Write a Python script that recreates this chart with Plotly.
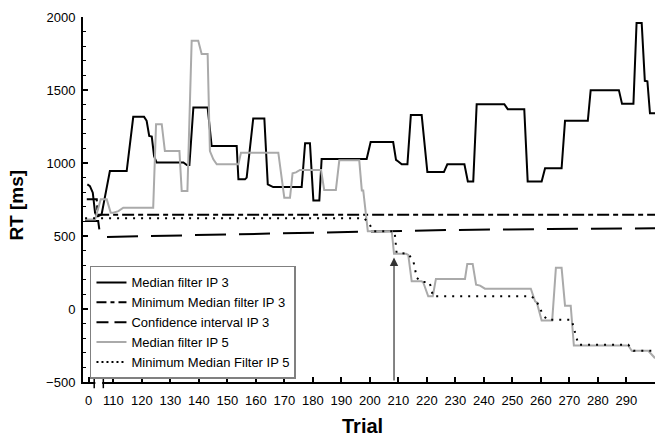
import plotly.graph_objects as go

# ---- data (x = position on the broken Trial axis, y = RT in ms) ----
med3_x = [100.9,101.8,102.8,103.6,104.2,104.7,105.9,107.1,108.8,114.7,117.0,120.8,121.7,122.6,123.5,124.3,125.2,
          134.6,135.8,136.7,138.1,143.1,144.5,153.3,153.9,156.2,156.8,159.1,163.0,164.2,166.1,176.1,177.3,179.0,
          180.2,182.3,183.1,198.9,200.3,208.2,209.2,210.0,211.2,213.2,214.4,218.2,220.2,226.0,227.2,233.2,234.4,
          236.3,237.5,247.2,248.4,254.2,255.4,260.3,261.5,267.3,268.5,276.5,277.5,287.4,288.5,292.5,293.6,295.4,
          296.5,297.4,298.3,300.1]
med3_y = [853,842,797,659,636,636,648,773,945,945,1316,1316,1289,1185,1181,1048,1003,
          1003,986,986,1380,1380,1117,1117,888,888,900,1305,1305,854,835,835,1135,1135,
          744,744,1028,1028,1144,1144,1021,1010,991,991,1328,1328,938,938,991,991,874,
          874,1403,1403,1369,1369,874,874,964,964,1289,1289,1499,1499,1405,1405,1959,1959,
          1563,1560,1341,1341]

minmed3_x = [100.7, 104.2, 104.5, 300.1]
minmed3_y = [751, 751, 645, 645]

ci3_x = [100.1, 104.7, 105.1, None, 107.8, 122.9, 158.0, 193.1, 228.2, 263.2, 300.1]
ci3_y = [602, 602, 545, None, 494, 500, 515, 530, 541, 548, 553]

med5_x = [100.1,103.6,105.6,107.7,109.1,110.0,111.8,113.5,124.0,125.0,127.0,128.1,133.2,134.0,136.0,137.5,
          139.8,141.0,143.1,143.9,145.1,146.3,153.9,154.8,167.9,170.0,172.0,172.9,174.1,175.5,182.9,184.0,
          188.1,189.3,196.3,197.2,197.7,199.3,207.7,208.5,212.7,213.5,214.7,218.2,218.8,220.5,222.1,223.2,
          233.4,234.2,236.1,237.3,238.7,240.4,256.5,258.0,258.6,260.3,264.0,265.3,267.3,268.5,270.5,271.6,
          290.7,291.9,297.7,300.1]
med5_y = [613,613,751,751,659,659,670,694,694,1266,1266,1082,1082,808,808,1838,
          1838,1747,1747,1082,1025,991,991,1071,1071,762,762,929,936,952,952,815,
          815,1018,1018,812,812,533,533,378,378,370,190,190,180,87,87,206,
          206,309,309,167,160,139,139,52,45,-78,-78,282,282,23,23,-250,
          -250,-286,-286,-337]

minmed5_x = [100.1,198.1,199.9,201.2,208.7,209.4,213.5,215.3,215.9,216.5,218.2,220.9,221.7,222.1,256.8,
             258.6,260.3,262.1,270.8,271.8,273.2,290.7,292.5,299.4,300.1]
minmed5_y = [621,621,580,533,533,385,378,327,270,213,185,185,133,87,87,
             50,-20,-73,-73,-150,-245,-245,-286,-286,-300]

tick_vals = [101.3] + list(range(110, 300, 10))
tick_text = ["0"] + [str(v) for v in range(110, 300, 10)]

arrow_x, arrow_tip, arrow_base = 208.5, 352, -500

X_RANGE = [99.37, 300.07]
Y_RANGE = [-500, 2000]
BREAK_L, BREAK_R = 103.3, 106.5

FONT = "Liberation Sans, Arial, Helvetica, sans-serif"

series = [
    ("Median filter IP 3", med3_x, med3_y, dict(color="black", width=2), None),
    ("Minimum Median filter IP 3", minmed3_x, minmed3_y, dict(color="black", width=2, dash="12px,4px,5px,4px"), "10px,4px,4px,4px"),
    ("Confidence interval IP 3", ci3_x, ci3_y, dict(color="black", width=2, dash="31px,13px"), "12px,6px"),
    ("Median filter IP 5", med5_x, med5_y, dict(color="#aaaaaa", width=2), None),
    ("Minimum Median Filter IP 5", minmed5_x, minmed5_y, dict(color="black", width=2, dash="2px,6px"), "2px,3px"),
]

fig = go.Figure()
for name, xs, ys, ln, legdash in series:
    fig.add_trace(go.Scatter(x=xs, y=ys, mode="lines", name=name, line=ln,
                             connectgaps=False, showlegend=False))
for name, xs, ys, ln, legdash in series:
    l2 = dict(ln)
    if legdash:
        l2["dash"] = legdash
    fig.add_trace(go.Scatter(x=[None], y=[None], mode="lines", name=name, line=l2, showlegend=True))

fig.add_annotation(x=arrow_x, y=arrow_tip, ax=arrow_x, ay=arrow_base, axref="x", ayref="y",
                   xref="x", yref="y", text="", showarrow=True, arrowhead=2, arrowsize=1.4,
                   arrowwidth=1.2, arrowcolor="#333333")

def px(d):
    return (d - X_RANGE[0]) / (X_RANGE[1] - X_RANGE[0])

# axis break
fig.add_shape(type="rect", xref="paper", yref="paper", x0=px(BREAK_L) + 0.002, x1=px(BREAK_R) - 0.002,
              y0=-0.01, y1=0.01, fillcolor="white", line=dict(width=0), layer="above")
for b in (BREAK_L, BREAK_R):
    fig.add_shape(type="line", xref="paper", yref="paper", x0=px(b), x1=px(b), y0=-0.017, y1=0.024,
                  line=dict(color="black", width=1.5), layer="above")

fig.add_annotation(text="<b>RT [ms]</b>", xref="paper", yref="paper", x=-0.116, y=0.485,
                   xanchor="center", yanchor="middle",
                   textangle=-90, showarrow=False, font=dict(size=19, family=FONT, color="black"))
fig.add_annotation(text="<b>Trial</b>", xref="paper", yref="paper", x=0.4895, y=-0.1205,
                   xanchor="center", yanchor="middle",
                   showarrow=False, font=dict(size=20, family=FONT, color="black"))

fig.update_layout(
    width=655, height=436,
    margin=dict(l=83, r=0, t=17, b=54, autoexpand=False),
    paper_bgcolor="white", plot_bgcolor="white",
    font=dict(family=FONT, size=13, color="black"),
    showlegend=True,
    legend=dict(x=0.0122, y=0.318, xanchor="left", yanchor="top", bgcolor="white",
                bordercolor="#808080", borderwidth=1.5, font=dict(size=13, family=FONT),
                tracegroupgap=0),
    xaxis=dict(range=X_RANGE, tickmode="array", tickvals=tick_vals, ticktext=tick_text,
               ticks="inside", ticklen=5, tickwidth=1.5, tickcolor="black", automargin=False,
               ticklabelstandoff=5,
               showline=True, linecolor="black", linewidth=2, showgrid=False, zeroline=False,
               tickfont=dict(size=13)),
    yaxis=dict(range=Y_RANGE, tickmode="linear", tick0=-500, dtick=500, automargin=False,
               ticks="inside", ticklen=5, tickwidth=1.5, tickcolor="black", ticklabelstandoff=3,
               minor=dict(dtick=100, ticks="inside", ticklen=3, tickwidth=1, tickcolor="black"),
               showline=True, linecolor="black", linewidth=2, showgrid=False, zeroline=False,
               tickfont=dict(size=13)),
)

fig.write_html("out.html", config={"displayModeBar": False},
               post_script="document.body.style.margin='0';document.body.style.padding='0';")
